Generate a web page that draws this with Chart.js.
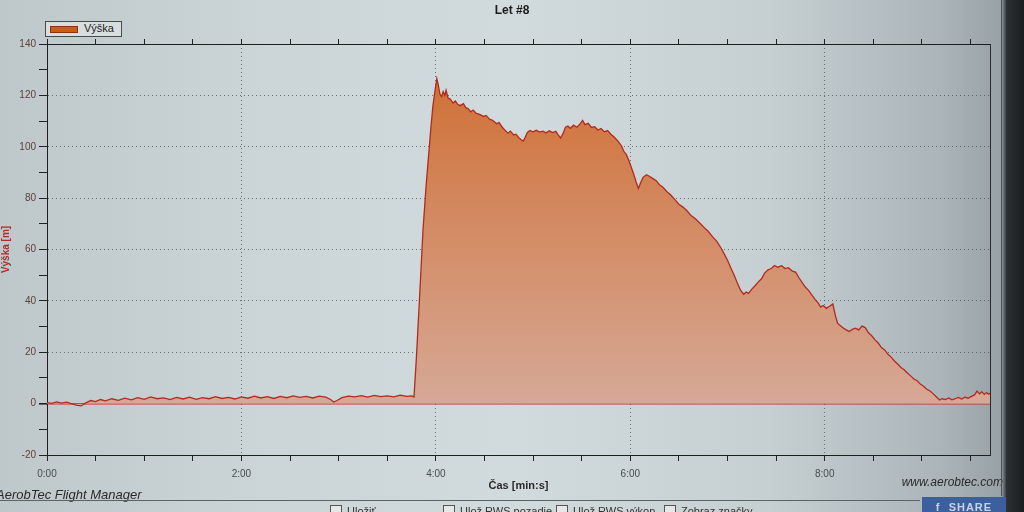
<!DOCTYPE html>
<html>
<head>
<meta charset="utf-8">
<script src="https://cdn.jsdelivr.net/npm/chart.js@4.4.1/dist/chart.umd.min.js"></script>
<style>
html, body { margin: 0; padding: 0; }
body {
    width: 1024px; height: 512px; overflow: hidden; position: relative;
    font-family: "Liberation Sans", Arial, sans-serif;
    background: linear-gradient(90deg, #bec8cb 0%, #cbd5d7 25%, #d1dadc 50%, #c6d0d3 75%, #abb5b9 92%, #98a2a6 97.8%, #2c3135 98.3%, #1a1d20 100%);
}
#c { position: absolute; left: 0; top: 0; }
#title { position: absolute; left: 0; width: 1024px; top: 3px; text-align: center; font-weight: bold; font-size: 12px; color: #1c1c1c; }
#legend { position: absolute; left: 45px; top: 21px; width: 75px; height: 14px; border: 1px solid #4a4a4a; background: #d6dedf; }
#legend .sw { position: absolute; left: 4px; top: 4px; width: 26px; height: 5px; background: #cf5a1e; border: 1px solid #8a3510; }
#legend .tx { position: absolute; left: 38px; top: 0px; font-size: 11px; color: #222; }
#brand { position: absolute; left: -4px; top: 487px; font-style: italic; font-size: 13px; color: #2a2a2a; }
#web { position: absolute; right: 21px; top: 475px; font-style: italic; font-size: 12px; color: #2a2a2a; }
#rule { position: absolute; left: 0; top: 500px; width: 920px; height: 1px; background: #5b6366; }
#frame { position: absolute; left: 1001px; top: 0; width: 1px; height: 496px; background: #4a5256; }
.cb { position: absolute; top: 505px; font-size: 11px; color: #333; }
.cb span { display: inline-block; width: 10px; height: 10px; border: 1px solid #555; background: #e4e8e9; margin-right: 5px; vertical-align: -2px; }
#share { position: absolute; left: 922px; top: 497px; width: 84px; height: 20px; background: #3c5f9e; color: #c9d3e6; font-size: 11px; font-weight: bold; text-align: center; line-height: 20px; letter-spacing: 1px; }
</style>
</head>
<body>
<canvas id="c" width="1024" height="512"></canvas>
<div id="title">Let #8</div>
<div id="legend"><div class="sw"></div><div class="tx">Výška</div></div>
<div id="brand">AerobTec Flight Manager</div>
<div id="web">www.aerobtec.com</div>
<div id="rule"></div>
<div id="frame"></div>
<div class="cb" style="left:330px"><span></span>Uložiť</div>
<div class="cb" style="left:443px"><span></span>Ulož RWS pozadie</div>
<div class="cb" style="left:556px"><span></span>Ulož RWS výkon</div>
<div class="cb" style="left:664px"><span></span>Zobraz značky</div>
<div id="share">f&nbsp; SHARE</div>
<script>
// čas v sekundách od začiatku záznamu
let casS = [
    0, 3, 6, 9, 12, 15, 18, 21, 24, 27, 30, 33, 36, 40, 44, 48, 52, 56, 60, 64,
    68, 72, 76, 80, 84, 88, 92, 96, 100, 104, 108, 112, 116, 120, 124, 128, 132, 136, 140, 144,
    148, 152, 156, 160, 164, 168, 172, 175, 177, 179, 182, 186, 190, 194, 198, 202, 206, 210, 214, 218,
    222, 225, 226.5,
    228, 230, 232, 234, 235.7, 237, 238.2, 239.5, 240.6, 241.5, 242.5, 243.5, 244.5, 245.5, 246.3, 247.5,
    249, 250.6, 252, 253.5, 255, 257, 258.5, 260, 261.5, 263, 265, 267, 269.4, 271, 273, 275,
    277.5, 279, 281, 283, 284.5, 286, 288, 289.5, 291, 292.5, 294, 295, 296.5, 298, 300, 302,
    304, 306, 308, 310, 312, 314, 315.5, 317, 318.5, 320, 321.5, 323, 325, 327, 329, 330.6,
    332, 334, 336, 338, 340, 342, 344, 346, 348, 350, 352.5, 354.5, 356, 357.5, 359, 360.6,
    362, 363.5, 365, 366.5, 368, 370, 372, 374, 376, 378, 380, 382.5, 385, 387.5, 390, 392.5,
    395, 397.5, 400, 403, 405.5, 408, 411, 413.5, 416, 418, 420, 422, 424, 426, 428, 430,
    431.5, 433, 435, 437, 439, 441, 443, 445, 447, 449, 451, 453.5, 455.5, 457.5, 460, 462,
    464, 466, 468, 470, 472, 474, 476, 477.5, 479, 481, 483, 485, 486.5, 488, 489.5, 491,
    493, 495, 497, 499, 501, 503, 505, 507, 509, 511, 513, 515, 517, 519, 521, 523,
    525, 527, 529, 531, 533, 535, 537, 539, 541, 543, 545, 547, 549, 550.8, 552.5, 554.5,
    556.5, 558.5, 560.5, 562.5, 564.5, 566.5, 568.5, 570.5, 572.5, 574, 575.5, 577, 578.5, 580, 581, 582
];

// výška v metroch
let vyskaM = [
    0.4, 0.1, 0.7, 0.2, 0.6, 0.0, -0.6, -0.9, 0.3, 1.2, 0.8, 1.6, 1.1, 1.9, 1.3, 2.1, 1.5, 2.3, 1.7, 2.6,
    1.9, 2.2, 1.6, 2.4, 1.8, 2.5, 1.7, 2.3, 1.9, 2.7, 2.0, 2.4, 1.8, 2.6, 2.1, 2.9, 2.2, 2.7, 2.0, 2.8,
    2.3, 3.0, 2.4, 2.8, 2.2, 2.9, 2.5, 1.6, 0.6, 1.2, 2.3, 2.9, 2.6, 3.1, 2.5, 3.2, 2.7, 3.0, 2.6, 3.3,
    2.8, 3.0, 2.6,
    18, 42, 67, 85, 98, 108, 116, 122, 126.5, 124, 120.5, 119.5, 121.5, 120, 122, 119,
    118.5, 117, 117.8, 116.5, 116, 116.8, 115.2, 114.8, 113.6, 114.3, 113, 112.6, 111.8, 112.2, 110.8, 110.3,
    109, 109.4, 107.6, 106.2, 105.3, 106.1, 104.6, 104.9, 103.6, 102.8, 102.2, 103.5, 105.6, 106.3, 105.8, 106.4,
    105.7, 106.1, 105.4, 106.2, 105.5, 106.0, 104.6, 103.4, 105.2, 107.6, 108.1, 107.2, 108.4, 107.6, 108.9, 110.2,
    108.6, 109.1, 107.5, 107.8, 106.5, 107.1, 105.8, 106.3, 104.9, 103.8, 102.1, 100.4, 98.2, 97, 94.8, 92,
    89.5, 86.5, 83.8, 86.2, 88.2, 89.1, 88.4, 87.6, 86.8, 85.2, 84.3, 82.6, 81.2, 79.4, 77.6, 76.5,
    75.1, 73.2, 72.1, 70.2, 68.6, 67.1, 64.8, 63.1, 60.6, 58.2, 55.8, 52.9, 50.2, 47.1, 44.2, 42.6,
    43.4, 42.9, 44.6, 45.9, 47.4, 48.6, 50.9, 52.1, 52.6, 53.8, 53.1, 53.7, 52.6, 52.9, 51.6, 51.2,
    49.1, 47.2, 45.4, 44.1, 42.3, 40.6, 39.1, 37.6, 38.2, 37.1, 37.9, 38.8, 34.4, 31.2, 30.4, 29.6,
    28.8, 28.1, 28.9, 29.4, 28.7, 30.2, 29.6, 27.6, 26.4, 24.8, 23.6, 21.8, 20.9, 19.2, 18.1, 16.6,
    15.4, 14.1, 13.2, 11.9, 10.8, 9.6, 8.9, 7.6, 6.8, 5.6, 4.9, 3.8, 2.6, 1.4, 1.9, 1.6,
    2.2, 1.5, 1.9, 2.4, 1.8, 2.5, 2.1, 2.8, 3.4, 4.9, 3.8, 4.6, 3.6, 4.3, 3.7, 4.0
];

// osi
let casMax = 582;
let casKrok = 30;       // malé značky každých 30 s
let casPopisKrok = 120; // popisy 0:00, 2:00, ...
let vyskaMin = -20;
let vyskaMax = 140;
let vyskaKrok = 10;
let vyskaPopisKrok = 20;

let body = [];
for (let i = 0; i < casS.length; i++) {
    body.push({ x: casS[i], y: vyskaM[i] });
}

function minSec(v) {
    let m = Math.floor(v / 60);
    let s = Math.round(v % 60);
    return m + ':' + (s < 10 ? '0' + s : s);
}

function fillGradient(context) {
    let chart = context.chart;
    let area = chart.chartArea;
    if (!area) return 'rgba(210,130,80,0.8)';
    let y0 = chart.scales.y.getPixelForValue(0);
    let g = chart.ctx.createLinearGradient(0, area.top + 30, 0, y0);
    g.addColorStop(0, 'rgb(208,112,54)');
    g.addColorStop(0.45, 'rgb(211,138,98)');
    g.addColorStop(1, 'rgb(214,168,150)');
    return g;
}

let ctx = document.getElementById('c').getContext('2d');

let myChart = new Chart(ctx, {
    type: 'line',
    data: {
        datasets: [{
            label: 'Výška',
            data: body,
            borderColor: 'rgb(178,42,30)',
            borderWidth: 1.3,
            backgroundColor: fillGradient,
            fill: 'origin',
            pointRadius: 0,
            tension: 0
        }]
    },
    options: {
        responsive: false,
        animation: false,
        layout: { padding: { left: 0, right: 34, top: 39, bottom: 17 } },
        plugins: {
            legend: { display: false },
            title: { display: false },
            tooltip: { enabled: false }
        },
        scales: {
            x: {
                type: 'linear',
                position: 'bottom',
                min: 0,
                max: casMax,
                afterFit: function (scale) { scale.height = 40; },
                ticks: {
                    stepSize: casKrok,
                    includeBounds: false,
                    autoSkip: false,
                    maxRotation: 0,
                    padding: 7,
                    color: '#474c4f',
                    font: { family: 'Liberation Sans', size: 10 },
                    callback: function (v) { return v % casPopisKrok === 0 ? minSec(v) : ''; }
                },
                grid: {
                    color: function (c) {
                        if (!c.tick) return 'transparent';
                        return (c.tick.value % casPopisKrok === 0 && c.tick.value > 0) ? 'rgba(70,70,70,0.7)' : 'transparent';
                    },
                    tickColor: '#222',
                    tickLength: 6,
                    lineWidth: 1
                },
                border: { display: true, color: '#1e1e1e', width: 1, dash: [1, 3] },
                title: {
                    display: true,
                    text: 'Čas [min:s]',
                    color: '#2a2a2a',
                    padding: { top: 0, bottom: 2 },
                    font: { family: 'Liberation Sans', size: 11, weight: 'bold' }
                }
            },
            x2: {
                type: 'linear',
                position: 'top',
                min: 0,
                max: casMax,
                afterFit: function (scale) { scale.height = 5; },
                ticks: { display: false, stepSize: casKrok, includeBounds: false },
                grid: { drawOnChartArea: false, tickColor: '#222', tickLength: 5 },
                border: { display: true, color: '#1e1e1e', width: 1 }
            },
            y: {
                type: 'linear',
                position: 'left',
                min: vyskaMin,
                max: vyskaMax,
                afterFit: function (scale) { scale.width = 47; },
                ticks: {
                    stepSize: vyskaKrok,
                    autoSkip: false,
                    padding: 3,
                    color: '#5e4038',
                    font: { family: 'Liberation Sans', size: 10 },
                    callback: function (v) { return v % vyskaPopisKrok === 0 ? v : ''; }
                },
                grid: {
                    color: function (c) {
                        if (!c.tick) return 'transparent';
                        let v = c.tick.value;
                        if (v === 0) return 'rgb(200,38,38)';
                        if (v === vyskaMin || v === vyskaMax) return 'transparent';
                        return v % vyskaPopisKrok === 0 ? 'rgba(70,70,70,0.7)' : 'transparent';
                    },
                    lineWidth: function (c) { return c.tick && c.tick.value === 0 ? 1.6 : 1; },
                    tickColor: '#222',
                    tickLength: 8
                },
                border: {
                    display: true, color: '#1e1e1e', width: 1,
                    dash: function (c) { return c.tick && c.tick.value === 0 ? [] : [1, 3]; }
                },
                title: {
                    display: true,
                    text: 'Výška [m]',
                    color: '#a8302a',
                    padding: 0,
                    font: { family: 'Liberation Sans', size: 10, weight: 'bold' }
                }
            },
            y2: {
                type: 'linear',
                position: 'right',
                min: vyskaMin,
                max: vyskaMax,
                afterFit: function (scale) { scale.width = 0; },
                ticks: { display: false },
                grid: { drawOnChartArea: false, drawTicks: false },
                border: { display: true, color: '#2a2a2a', width: 1 }
            }
        }
    }
});
</script>
</body>
</html>
